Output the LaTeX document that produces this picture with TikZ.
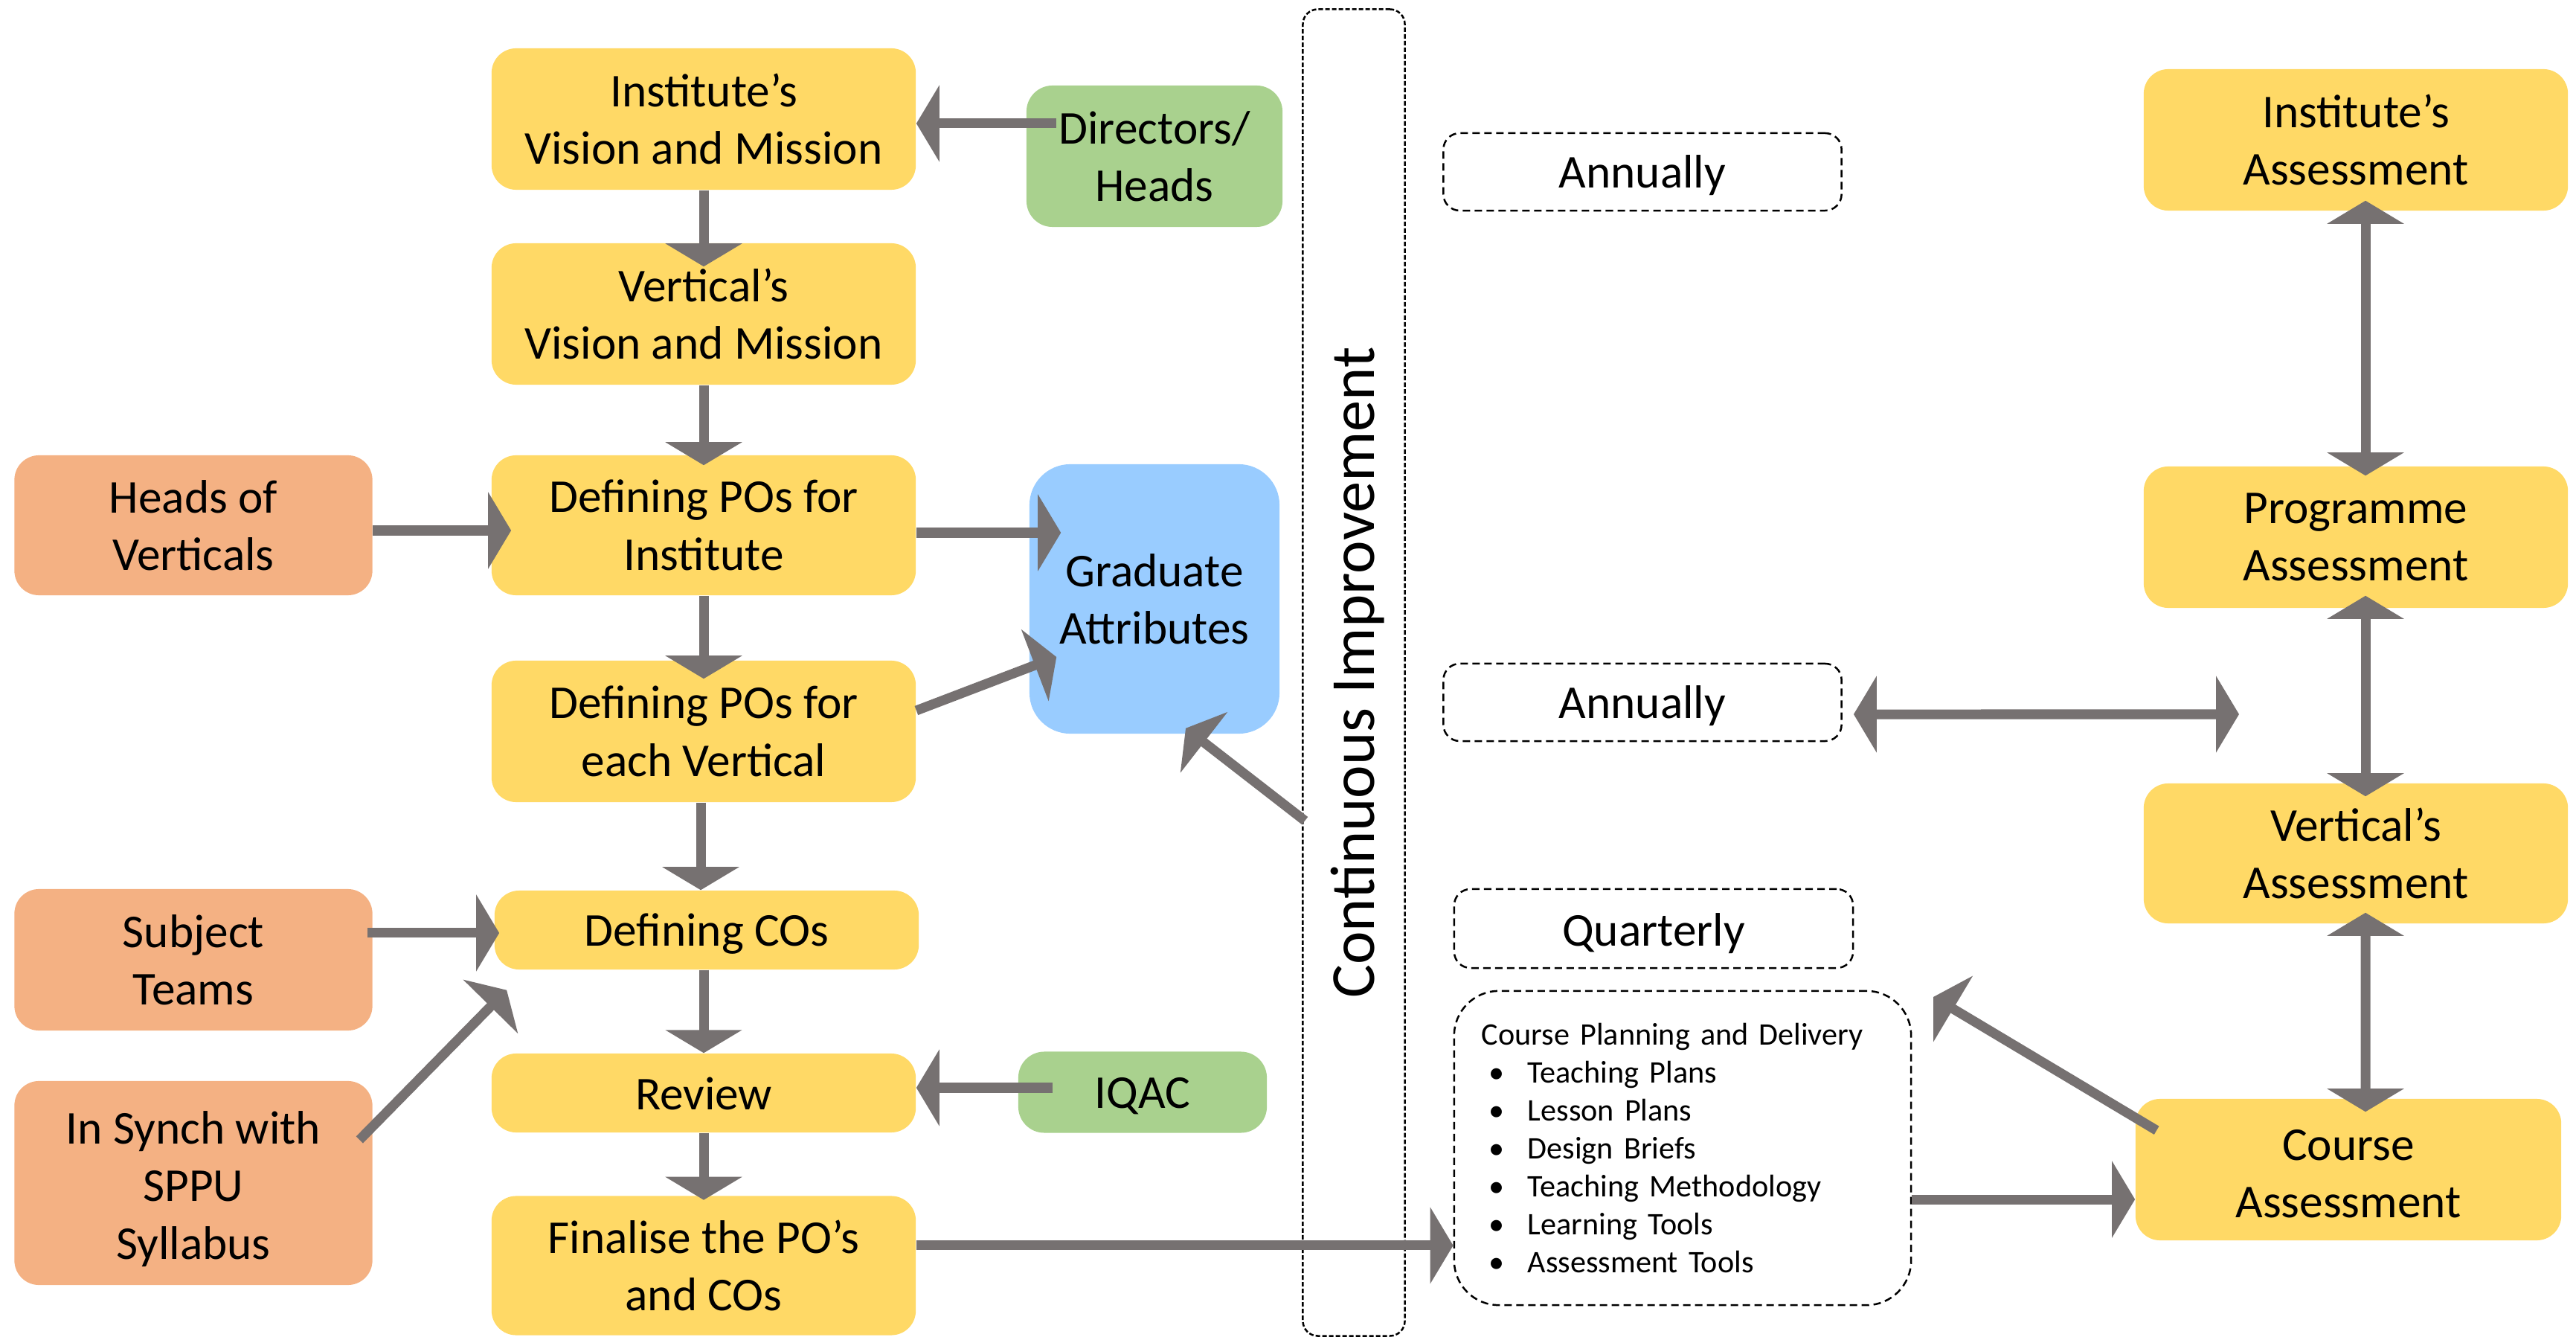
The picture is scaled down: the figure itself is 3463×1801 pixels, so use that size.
\documentclass[tikz,border=0pt]{standalone}
\usepackage{fontspec}
\setmainfont{Carlito}
\usetikzlibrary{arrows.meta,calc}
\definecolor{ylw}{HTML}{FFD966}
\definecolor{org}{HTML}{F4B183}
\definecolor{grn}{HTML}{A9D18E}
\definecolor{blu}{HTML}{99CCFF}
\definecolor{arrg}{HTML}{767171}
\newcommand{\cpitem}[1]{\hspace*{0.1cm}\makebox[0.52cm][l]{\textbullet}#1}
\tikzset{
  box/.style={rounded corners=0.33cm, minimum width=5.7cm, minimum height=1.9cm, inner sep=0pt, align=center},
  yb/.style={box, fill=ylw},
  ob/.style={box, fill=org, minimum width=4.81cm},
  gb/.style={box, fill=grn, rounded corners=0.35cm},
  db/.style={draw=black, dash pattern=on 0.1cm off 0.06cm, line width=0.025cm, rounded corners=0.22cm, inner sep=0pt, align=center},
  oneline/.style={text height=0.53cm, text depth=0.1cm},
  arr/.style={draw=arrg, line width=0.13cm, -{Triangle[length=0.31cm,width=1.02cm]}},
  darr/.style={draw=arrg, line width=0.13cm, {Triangle[length=0.31cm,width=1.02cm]}-{Triangle[length=0.31cm,width=1.02cm]}}
}
\begin{document}
\begin{tikzpicture}[x=0.01cm, y=-0.01cm, font=\fontsize{18}{22}\selectfont]
\useasboundingbox (0,0) rectangle (3463,1801);
% left column
\node[yb] (ivm) at (946,160) {Institute’s\\Vision and Mission};
\node[yb] (vvm) at (946,422) {Vertical’s\\Vision and Mission};
\node[yb, minimum height=1.88cm] (poi) at (946,706) {Defining POs for\\Institute};
\node[yb] (pov) at (946,983) {Defining POs for\\each Vertical};
\node[yb, oneline, minimum height=1.06cm] (cos) at (950,1250) {Defining COs};
\node[yb, text height=0.54cm, text depth=0.1cm, minimum height=1.06cm] (rev) at (946,1469) {Review};
\node[yb, minimum height=1.87cm] (fin) at (946,1701) {Finalise the PO’s\\and COs};
% orange
\node[ob, minimum height=1.88cm] (heads) at (260,706) {Heads of\\Verticals};
\node[ob] (subj) at (260,1290) {Subject\\Teams};
\node[ob, minimum height=2.74cm] (sppu) at (260,1590) {\rule{0pt}{0.6cm}In Synch with\\SPPU\\Syllabus};
% green and blue
\node[gb, minimum width=3.44cm] (dir) at (1552,210) {Directors/\\Heads};
\node[gb, oneline, minimum width=3.34cm, minimum height=1.09cm] (iqac) at (1536,1468) {IQAC};
\node[box, fill=blu, rounded corners=0.55cm, minimum width=3.36cm, minimum height=3.62cm] (ga) at (1552,805) {Graduate\\Attributes};
% continuous improvement
\node[db, dash pattern=on 0.06cm off 0.03cm, rounded corners=0.2cm, minimum width=1.37cm, minimum height=17.82cm] (ci) at (1820,904) {};
\node[rotate=90, font=\fontsize{24}{28}\selectfont, inner sep=0pt] (citext) at ([xshift=0.05cm]ci.center) {Continuous Improvement};
% dashed boxes
\node[db, oneline, minimum width=5.35cm, minimum height=1.04cm] (ann1) at (2208,231) {Annually};
\node[db, oneline, minimum width=5.35cm, minimum height=1.04cm] (ann2) at (2208,944) {Annually};
\node[db, text height=0.56cm, text depth=0.1cm, minimum width=5.36cm, minimum height=1.06cm] (qtr) at (2223,1248) {Quarterly};
\node[db, rounded corners=0.6cm, minimum width=6.14cm, minimum height=4.22cm, text width=5.4cm, align=left, font=\fontsize{12}{14.5}\selectfont] (cpd) at (2262,1543) {Course Planning and Delivery\\
\cpitem{Teaching Plans}\\
\cpitem{Lesson Plans}\\
\cpitem{Design Briefs}\\
\cpitem{Teaching Methodology}\\
\cpitem{Learning Tools}\\
\cpitem{Assessment Tools}};
% right column
\node[yb] (ia) at (3167,188) {Institute’s\\Assessment};
\node[yb] (pa) at (3167,722) {Programme\\Assessment};
\node[yb, minimum height=1.88cm] (va) at (3167,1147) {Vertical’s\\Assessment};
\node[yb, minimum width=5.72cm] (ca) at (3157,1572) {\rule{0pt}{0.52cm}Course\\Assessment};
\coordinate (e16) at (3010,960);
\coordinate (e20) at (2599,1340);
% arrows
\draw[arr] ([xshift=-1.32cm,yshift=0.44cm]dir.center) coordinate (s1) -- (s1 -| ivm.east);
\draw[arr, shorten >=-0.32cm] (ivm.south) -- (vvm.north);
\draw[arr, shorten >=-0.14cm] (vvm.south) -- (poi.north);
\draw[arr, shorten >=-0.25cm] (poi.south) -- (pov.north);
\draw[arr] ([xshift=-0.04cm]pov.south) -- ([xshift=-0.04cm]pov.south |- cos.north);
\draw[arr] ([xshift=-0.04cm]cos.south) -- ([xshift=-0.04cm]cos.south |- rev.north);
\draw[arr, shorten >=-0.06cm] (rev.south) -- (fin.north);
\draw[arr, shorten >=-0.27cm] ([yshift=-0.07cm]heads.east) coordinate (s8) -- (s8 -| poi.west);
\draw[arr, shorten >=-0.43cm] ([yshift=-0.1cm]poi.east) coordinate (s9) -- (s9 -| ga.west);
\draw[arr] ([yshift=0.28cm]pov.east) -- ([xshift=0.37cm,yshift=-0.78cm]ga.west);
\draw[arr] ([xshift=0.04cm,yshift=-1.99cm]ci.west) -- ([xshift=0.42cm,yshift=0.08cm]ga.south);
\draw[arr, shorten >=-0.07cm] ([xshift=-0.07cm,yshift=0.36cm]subj.east) coordinate (s12) -- (s12 -| cos.west);
\draw[arr] ([xshift=-0.18cm,yshift=0.58cm]sppu.east) -- ([xshift=0.17cm,yshift=-0.27cm]cos.south west);
\draw[arr] ([xshift=0.47cm,yshift=0.06cm]iqac.west) coordinate (s14) -- (s14 -| rev.east);
\draw[arr] ([yshift=0.27cm]fin.east) coordinate (s15) -- (s15 -| cpd.west);
\draw[darr] ([xshift=0.15cm,yshift=-0.16cm]ann2.east) -- (e16);
\draw[darr] ([xshift=0.13cm,yshift=0.14cm]ia.south) -- ([xshift=0.13cm,yshift=-0.13cm]pa.north);
\draw[darr] ([xshift=0.13cm,yshift=0.17cm]pa.south) -- ([xshift=0.13cm,yshift=-0.18cm]va.north);
\draw[darr] ([xshift=0.13cm,yshift=0.15cm]va.south) -- ([xshift=0.23cm,yshift=-0.18cm]ca.north);
\draw[arr] ([xshift=0.29cm,yshift=-0.43cm]ca.north west) -- (e20);
\draw[arr] ([yshift=-0.69cm]cpd.east) coordinate (s21) -- (s21 -| ca.west);
\end{tikzpicture}
\end{document}
